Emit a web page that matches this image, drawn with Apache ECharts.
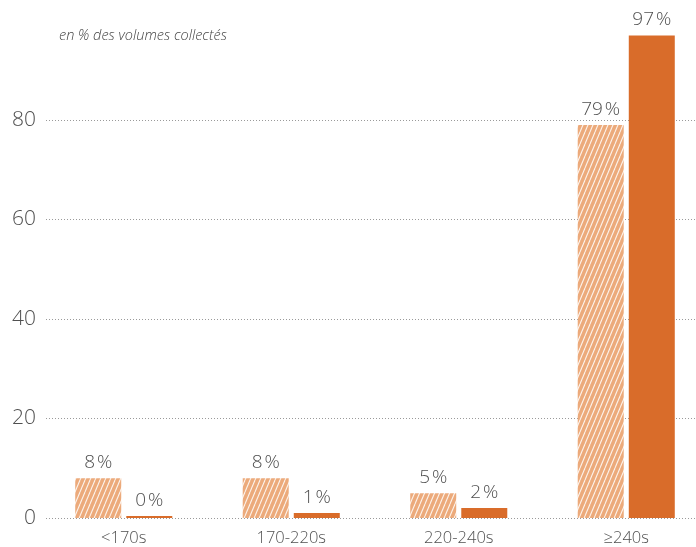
<!DOCTYPE html>
<html>
<head>
<meta charset="utf-8">
<script src="https://cdn.jsdelivr.net/npm/echarts@6/dist/echarts.min.js"></script>
<style>
  html, body { margin: 0; padding: 0; background: #fff; }
  #chart { width: 696px; height: 547px; }
</style>
</head>
<body>
<div id="chart"></div>
<script>
// Durée de conservation : part des volumes collectés par tranche
const categories = ['<170s', '170-220s', '220-240s', '\u2265240s'];
const seriesHatched = [8, 8, 5, 79];
const seriesSolid = [0, 1, 2, 97];
const yTicks = [0, 20, 40, 60, 80];
const subtitle = 'en % des volumes collectés';

const FONT = '"Open Sans", "DejaVu Sans", sans-serif';
const TEXT = '#505050';
const SOLID = '#D96C2A';
const LIGHT = '#ECAA7B';

// Light orange tile with white diagonal stripes
function hatchPattern() {
  const w = 5, h = 12;
  const c = document.createElement('canvas');
  c.width = w; c.height = h;
  const ctx = c.getContext('2d');
  ctx.fillStyle = LIGHT;
  ctx.fillRect(0, 0, w, h);
  ctx.strokeStyle = 'rgba(255,255,255,0.85)';
  ctx.lineWidth = 1.1;
  for (let k = -1; k <= 1; k++) {
    ctx.beginPath();
    ctx.moveTo(k * w, h);
    ctx.lineTo(k * w + w, 0);
    ctx.stroke();
  }
  return { image: c, repeat: 'repeat' };
}

const chart = echarts.init(document.getElementById('chart'), null, { renderer: 'canvas' });

const labelStyle = {
  show: true,
  position: 'top',
  distance: 6,
  color: TEXT,
  fontFamily: FONT,
  fontWeight: 300,
  fontSize: 19,
  formatter: p => p.value + '\u200A%'
};

chart.setOption({
  animation: false,
  title: {
    text: subtitle,
    left: 54,
    top: 23,
    textStyle: { color: '#444', fontFamily: FONT, fontStyle: 'italic', fontWeight: 300, fontSize: 14.5 }
  },
  grid: [
    // value scale with its dotted guides
    { left: 46, right: 0, top: 20.5, bottom: 29, outerBoundsMode: 'none' },
    // bars: the band runs a little past the right edge
    { left: 40, right: -14, top: 20.5, bottom: 29, outerBoundsMode: 'none', containLabel: false }
  ],
  xAxis: [
    { type: 'category', gridIndex: 0, data: categories, show: false },
    {
      type: 'category', gridIndex: 1, data: categories,
      axisLine: { show: false }, axisTick: { show: false },
      axisLabel: { color: TEXT, fontFamily: FONT, fontWeight: 300, fontSize: 16.5, margin: 12 }
    }
  ],
  yAxis: [
    {
      type: 'value', gridIndex: 0, min: 0, max: 100, interval: 20,
      axisLine: { show: false }, axisTick: { show: false },
      axisLabel: {
        color: TEXT, fontFamily: FONT, fontWeight: 300, fontSize: 21, margin: 10,
        showMaxLabel: false,
        formatter: v => (yTicks.indexOf(v) >= 0 ? String(v) : '')
      },
      splitLine: {
        show: true,
        lineStyle: {
          color: ['#9a9a9a', '#9a9a9a', '#9a9a9a', '#9a9a9a', '#9a9a9a', 'rgba(0,0,0,0)'],
          type: [1, 2],
          width: 1
        }
      }
    },
    { type: 'value', gridIndex: 1, min: 0, max: 100, show: false, splitLine: { show: false } }
  ],
  series: [
    {
      type: 'bar', xAxisIndex: 1, yAxisIndex: 1,
      data: seriesHatched,
      barWidth: 46, barGap: '11%',
      itemStyle: { color: hatchPattern() },
      label: labelStyle
    },
    {
      type: 'bar', xAxisIndex: 1, yAxisIndex: 1,
      data: seriesSolid,
      barWidth: 46, barMinHeight: 2,
      itemStyle: { color: SOLID },
      label: labelStyle
    }
  ]
});
</script>
</body>
</html>
